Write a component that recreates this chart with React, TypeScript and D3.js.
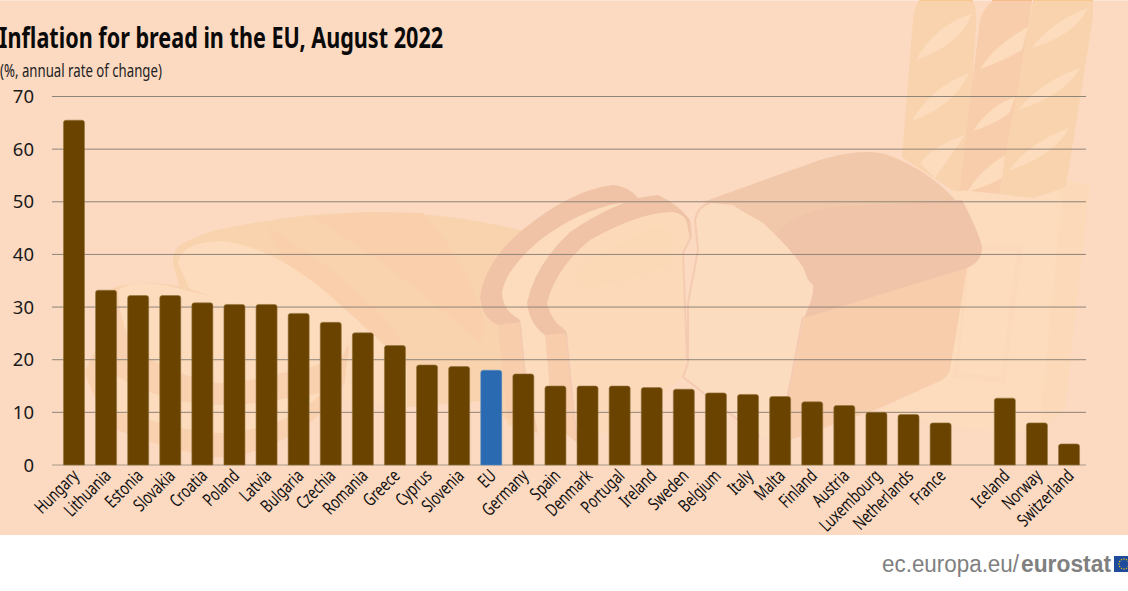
import { useEffect } from "react"
import * as d3 from "d3"

const countries = ["Hungary", "Lithuania", "Estonia", "Slovakia", "Croatia", "Poland", "Latvia", "Bulgaria", "Czechia", "Romania", "Greece", "Cyprus", "Slovenia", "EU", "Germany", "Spain", "Denmark", "Portugal", "Ireland", "Sweden", "Belgium", "Italy", "Malta", "Finland", "Austria", "Luxembourg", "Netherlands", "France", "", "Iceland", "Norway", "Switzerland"]
const values = [65.5, 33.2, 32.2, 32.2, 30.8, 30.5, 30.5, 28.8, 27.1, 25.1, 22.7, 19, 18.7, 18, 17.3, 15, 15, 15, 14.7, 14.4, 13.7, 13.4, 13, 12, 11.3, 10, 9.6, 8, 0, 12.7, 8, 4]
const yTicks = [0, 10, 20, 30, 40, 50, 60, 70]

const width = 1128
const height = 591
const bgColor = "#fcd9c1"
const sans = "'Noto Sans', sans-serif"

const pale = "#fcdcbd"
const crust = "#f0c3a6"
const side = "#f8cdab"
const wheat = "#f9d3ae"

// background picture, only decoration
const art: [string, string][] = [
  // box behind the loaf
  ["#fbd9b9", "M1058 190 L1063 180 L1090 185 L1083 247 L1065 410 L1047 423 L1020 433 L1010 300 Z"],
  ["#fcdcbc", "M952 190 L1033 198 L1058 190 L1062 200 L1040 423 L1020 433 L950 427 L880 410 L942 380 Z"],
  ["#fbd9ba", "M967 243 L1023 245 L1005 383 L952 378 L958 350 Z"],
  ["#fcdcbc", "M971 250 L1017 251 L1001 377 L958 372 Z"],
  // baguettes
  [wheat, "M919 1 L973 1 Q977 10 976 24 L972 87 L962 192 L952 190 L902 157 L913 20 Q914 8 919 1 Z"],
  [side, "M992 1 L1032 1 L1027 33 L1015 110 L1003 167 L1000 194 L960 190 L965 143 L980 20 Q984 8 992 1 Z"],
  [wheat, "M1033 1 L1093 1 L1093 17 L1066 186 L1058 190 L1033 198 L1000 194 L1003 167 L1018 90 L1027 33 Z"],
  [pale, "M916 60 Q935 25 972 14 Q960 45 916 60 Z"],
  [pale, "M912 121 Q930 88 969 73 Q955 105 912 121 Z"],
  [pale, "M920 163 Q935 145 965 135 Q955 150 935 178 Z"],
  [pale, "M980 69 Q995 45 1028 27 L1022 50 Q1005 60 980 69 Z"],
  [pale, "M973 131 Q990 105 1015 97 L1010 112 Q1000 122 973 131 Z"],
  [pale, "M967 192 Q980 170 1005 155 L1002 178 Q990 185 967 192 Z"],
  [pale, "M1032 48 Q1050 22 1088 8 Q1075 35 1032 48 Z"],
  [pale, "M1018 110 Q1040 82 1080 68 Q1065 95 1018 110 Z"],
  [pale, "M1008 171 Q1030 142 1069 128 Q1055 155 1008 171 Z"],
  // big round loaf
  [wheat, "M173 263 Q172 250 182 244 Q205 232 217 230 Q300 212 377 212 Q460 214 527 232 L530 400 L510 427 L493 400 L407 407 L340 350 L180 290 Z"],
  ["#f9cfac", "M267 227 Q340 270 393 327 Q405 345 407 367 L408 407 L350 395 Z"],
  ["#f9cfac", "M313 217 Q400 270 480 343 Q486 325 483 317 Q465 260 423 213 L370 212 Z"],
  [pale, "M178 263 Q180 243 220 241 Q270 245 327 293 Q380 340 407 367 L407 407 L343 400 L348 343 L190 290 Z"],
  // flat loaf, rim then the two pale parts
  ["#f9d1af", "M85 373 Q92 350 105 343 L113 288 Q140 278 187 288 L347 340 Q350 350 348 357 L342 390 Q320 420 282 440 Q240 460 215 457 Q160 448 118 430 Q95 405 85 373 Z"],
  [pale, "M118 290 Q130 282 142 283 Q165 284 185 290 L328 323 Q345 335 348 343 Q345 352 342 357 Q310 368 282 373 Q250 382 218 383 Q180 376 152 360 Q135 350 128 337 Q118 310 118 290 Z"],
  [pale, "M112 373 Q130 385 152 393 Q185 405 218 405 Q250 405 275 400 Q300 396 322 393 Q305 410 282 420 Q250 432 218 433 Q180 430 150 420 Q125 412 118 413 Q110 395 112 373 Z"],
  // sliced loaf side and top
  [side, "M804 318 L967 268 L950 370 Q948 376 942 380 L880 408 L790 440 L785 413 Z"],
  ["#f2c8aa", "M703 202 L820 160 Q860 148 885 154 Q930 170 960 205 Q978 230 982 247 Q982 262 967 268 L804 318 Q815 295 813 285 Q790 240 733 205 Z"],
  ["#f0c4a8", "M770 240 Q790 215 830 207 L962 200 Q978 230 982 247 Q982 262 967 268 L804 318 Q815 295 813 285 Z"],
  // first slice
  [crust, "M613 185 Q628 186 638 198 L660 196 L688 225 L660 300 L560 340 L520 327 L498 325 Q482 318 480 297 Q485 262 520 232 Q570 190 613 185 Z"],
  [side, "M498 325 L520 322 L538 433 L507 417 Z"],
  [pale, "M502 293 Q505 270 540 240 Q580 210 620 203 L640 202 L590 240 L550 290 L550 340 L560 440 L538 433 L525 367 L520 320 L513 315 Q503 308 502 293 Z"],
  // second slice
  [crust, "M658 195 Q678 204 690 220 L692 237 L683 253 L684 300 L600 340 L565 337 L545 335 Q530 325 527 303 Q535 265 570 232 Q620 198 658 195 Z"],
  [side, "M545 335 L565 333 L577 443 L553 423 Z"],
  ["#fcdab9", "M547 303 Q556 268 590 240 Q640 212 673 212 Q686 215 687 223 L690 240 L683 253 L687 360 L683 377 L640 410 L597 437 L577 440 L567 333 L563 328 Q552 322 547 303 Z"],
  ["#fbd8b6", "M577 278 Q580 265 600 255 L650 228 Q670 225 672 240 L670 265 L620 282 L590 288 Z"],
  // front slice
  ["#fcdcbe", "M710 203 Q735 205 763 223 Q790 248 803 267 L813 293 L803 317 L787 400 L790 440 L760 437 L683 377 L687 360 L688 303 L698 250 L697 220 Q700 206 710 203 Z"],
]
const artLines: string[] = [
  "M710 203 Q698 206 695 220 L698 250 L688 303 L688 363 L683 377 L760 437",
  "M690 222 L691 237 L683 253 L687 360",
  "M566 334 L577 443",
  "M520 323 L527 400",
  "M803 317 L787 400",
]

// flag stars for the logo
const starAngles = d3.range(12).map((i) => (i * Math.PI) / 6)

export default function App() {
  useEffect(() => {
    document.body.style.margin = "0"
  }, [])

  const x = d3.scaleBand<string>().domain(countries).range([58, 1085]).paddingInner(0.345).paddingOuter(0.17)
  const y = d3.scaleLinear().domain([0, 70]).range([465, 96.5])

  const barPath = (name: string, v: number) => {
    const x0 = x(name)!
    const w = x.bandwidth()
    const r = 2.5
    const p = d3.path()
    p.moveTo(x0, y(0))
    p.lineTo(x0, y(v) + r)
    p.quadraticCurveTo(x0, y(v), x0 + r, y(v))
    p.lineTo(x0 + w - r, y(v))
    p.quadraticCurveTo(x0 + w, y(v), x0 + w, y(v) + r)
    p.lineTo(x0 + w, y(0))
    p.closePath()
    return p.toString()
  }

  return (
    <svg width={width} height={height} viewBox={`0 0 ${width} ${height}`} style={{ display: "block", background: "#fff" }}>
      <rect x={0} y={0} width={width} height={535} fill={bgColor} />
      <rect x={0} y={0} width={width} height={1} fill="#fde6d8" />
      {art.map(([fill, d], i) => (
        <path key={i} d={d} fill={fill} />
      ))}
      {artLines.map((d, i) => (
        <path key={i} d={d} fill="none" stroke="#f4cbb0" strokeWidth={2} />
      ))}
      <rect x={919} y={0} width={54} height={1} fill="#f9c88f" />
      <rect x={992} y={0} width={40} height={1} fill="#f7bd8c" />
      <rect x={1033} y={0} width={60} height={1} fill="#f9c88f" />

      {yTicks.map((t) => (
        <g key={t}>
          <line x1={52} x2={1086} y1={y(t)} y2={y(t)} stroke={t === 0 ? "#a89a8c" : "#8f8478"} strokeWidth={1} />
          <text x={34} y={y(t)} dy="0.36em" textAnchor="end" fontFamily={sans} fontSize={18.5} fill="#1a1a1a">
            {t}
          </text>
        </g>
      ))}

      {countries.map((c, i) =>
        c === "" ? null : (
          <g key={c}>
            <path d={barPath(c, values[i])} fill={c === "EU" ? "#2a6ab0" : "#6b4300"} stroke={c === "EU" ? "#5d8fc4" : "#93763f"} strokeWidth={0.6} />
            <text
              transform={`translate(${x(c)! + x.bandwidth() / 2 + 6},${477}) rotate(-45) scale(0.73,1)`}
              textAnchor="end"
              fontFamily={sans}
              fontSize={18}
              fill="#111"
            >
              {c}
            </text>
          </g>
        ),
      )}

      <text transform="translate(-1,47.5) scale(0.745,1)" fontFamily={sans} fontWeight={700} fontSize={29} fill="#0a0a0a">
        Inflation for bread in the EU, August 2022
      </text>
      <text transform="translate(0,76.5) scale(0.755,1)" fontFamily={sans} fontSize={17.5} fill="#222">
        (%, annual rate of change)
      </text>

      <text x={882} y={572} fontFamily="'Liberation Sans', sans-serif" fontSize={23.5} fill="#808080" textLength={137} lengthAdjust="spacingAndGlyphs">
        ec.europa.eu/
      </text>
      <text x={1021} y={572} fontFamily="'Liberation Sans', sans-serif" fontWeight={700} fontSize={23.5} fill="#808080" textLength={90} lengthAdjust="spacingAndGlyphs">
        eurostat
      </text>
      <rect x={1114} y={556} width={14} height={16} fill="#1f4b9c" />
      {starAngles.map((a, i) => (
        <circle key={i} cx={1124 + 5 * Math.cos(a)} cy={564 + 5 * Math.sin(a)} r={0.7} fill="#f5d000" />
      ))}
    </svg>
  )
}
